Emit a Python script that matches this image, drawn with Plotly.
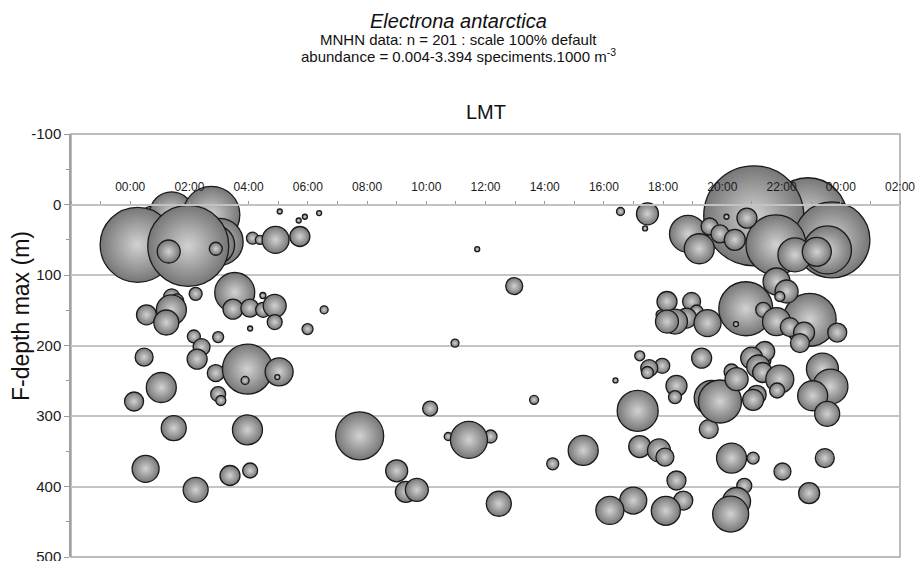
import plotly.graph_objects as go

# Local mean time of each haul (hours; values past 24 fall after midnight)
time_h = [
    22.89, 21.06, 23.70, 23.55, 21.81, 22.45, 23.19, 18.84, 19.22, 19.57,
    19.92, 20.42, 20.14, 20.83,
    1.00, 1.40, 2.74, 3.02, 2.85, 0.25, 1.96, 1.30, 2.89,
    4.13, 4.38, 4.91, 5.73, 5.05, 5.69, 5.90, 6.38,
    3.53, 2.21, 4.48, 1.40, 1.57, 1.39, 0.55, 1.22, 3.47, 4.04,
    4.49, 4.88, 4.88, 6.55, 5.99, 4.05, 2.15, 2.97, 2.41, 2.26,
    0.47, 2.89, 3.96, 3.88, 5.03, 4.97, 1.05, 2.97, 3.06, 0.13,
    1.47, 3.96, 0.52, 2.21, 3.37, 4.05,
    11.72, 12.97, 10.97, 16.39, 13.64, 10.13, 7.75, 10.74, 12.17, 11.44,
    9.00, 9.31, 9.68, 12.45, 14.27, 15.30, 16.56, 17.47, 17.39,
    17.21, 17.86, 18.06, 19.54, 20.31, 21.04, 22.03, 23.46, 18.45, 20.74,
    22.93, 16.99, 16.20, 18.68, 18.09, 20.48, 20.28,
    17.21, 17.97, 17.53, 17.47, 19.30, 18.45, 18.40, 17.14, 19.64, 19.92,
    21.16, 21.04, 21.27, 21.43, 20.99, 21.21, 21.36, 20.31, 20.48, 21.94,
    21.85, 23.38, 23.65, 23.05, 23.54,
    20.79, 22.95, 18.13, 18.96, 17.93, 19.13, 18.79, 18.40, 18.13, 19.50,
    20.46, 21.38, 21.83, 21.83, 22.17, 21.94, 22.28, 22.76, 22.62, 23.88,
]

# Maximum depth of the haul (m)
depth_m = [
    17.4, 16.0, 50.1, 64.4, 57.2, 71.4, 67.1, 41.6, 62.8, 31.2,
    41.6, 50.1, 17.4, 19.3,
    47.2, 13.2, 14.6, 52.9, 57.2, 57.2, 58.6, 66.7, 62.8,
    47.7, 50.1, 50.1, 45.4, 9.9, 22.7, 17.4, 12.2,
    124.8, 126.7, 129.1, 130.9, 136.6, 149.4, 156.5, 167.4, 148.4, 147.0,
    149.4, 143.7, 166.8, 149.4, 176.7, 175.9, 187.2, 188.1, 202.3, 219.3,
    216.5, 239.1, 233.5, 249.6, 237.3, 244.8, 259.6, 268.9, 278.0, 279.4,
    317.2, 319.6, 374.9, 404.7, 384.4, 377.3,
    63.3, 115.7, 196.6, 249.6, 277.0, 289.4, 328.1, 329.1, 329.1, 333.8,
    377.7, 407.5, 404.7, 424.5, 367.8, 348.9, 9.9, 13.2, 34.0,
    343.3, 348.9, 358.3, 318.6, 359.7, 359.7, 378.7, 359.7, 391.5, 399.0,
    409.4, 419.9, 434.0, 419.9, 434.5, 421.3, 439.1,
    214.6, 228.8, 232.1, 238.3, 217.9, 257.2, 273.2, 292.6, 274.2, 279.4,
    269.9, 277.0, 219.6, 208.5, 217.9, 229.8, 238.3, 236.9, 247.7, 247.7,
    263.8, 233.5, 258.2, 271.3, 296.9,
    147.9, 163.5, 137.6, 137.6, 156.5, 151.8, 161.1, 166.0, 166.0, 168.2,
    169.6, 149.4, 166.0, 109.2, 123.4, 130.5, 173.9, 181.6, 196.6, 181.6,
]

# Abundance (specimens per 1000 m3); bubble area is proportional to it
abundance = [
    2.065, 3.394, 1.960, 0.782, 1.222, 0.392, 0.2854, 0.4646, 0.3055, 0.0981,
    0.110, 0.1497, 0.0085, 0.1358,
    1.478, 0.657, 1.103, 0.750, 0.543, 1.909, 2.227, 0.1795, 0.0574,
    0.0489, 0.0275, 0.2474, 0.1358, 0.0069, 0.004, 0.0042, 0.0042,
    0.543, 0.0574, 0.0122, 0.0869, 0.0665, 0.3055, 0.1358, 0.2121, 0.1358, 0.110,
    0.0764, 0.1795, 0.0764, 0.0217, 0.0411, 0.004, 0.0574, 0.0411, 0.0981, 0.1358,
    0.110, 0.0981, 0.8485, 0.0217, 0.2661, 0.004, 0.3055, 0.0764, 0.0339, 0.1225,
    0.2121, 0.3055, 0.2474, 0.2121, 0.1358, 0.0764,
    0.0069, 0.0981, 0.0217, 0.004, 0.0275, 0.0764, 0.782, 0.0217, 0.0574, 0.4646,
    0.1643, 0.1497, 0.1795, 0.2121, 0.0489, 0.3055, 0.0217, 0.1643, 0.004,
    0.1643, 0.1795, 0.110, 0.1225, 0.3055, 0.0489, 0.0981, 0.1225, 0.1225, 0.0764,
    0.1497, 0.2474, 0.2661, 0.1225, 0.2854, 0.2661, 0.4399,
    0.0339, 0.0764, 0.0981, 0.0489, 0.1358, 0.1497, 0.0574, 0.5705, 0.4158, 0.6276,
    0.1225, 0.1497, 0.1643, 0.1358, 0.1643, 0.1795, 0.1358, 0.0764, 0.1795, 0.2661,
    0.0764, 0.3476, 0.4158, 0.3055, 0.2121,
    0.990, 0.953, 0.1358, 0.110, 0.0339, 0.0574, 0.1358, 0.2121, 0.1795, 0.2474,
    0.0085, 0.0764, 0.2661, 0.2474, 0.1795, 0.0339, 0.1225, 0.1497, 0.1225, 0.1225,
]

# Axis ticks
time_tick_vals = [0, 2, 4, 6, 8, 10, 12, 14, 16, 18, 20, 22, 24, 26]
time_tick_text = ["00:00", "02:00", "04:00", "06:00", "08:00", "10:00", "12:00",
                  "14:00", "16:00", "18:00", "20:00", "22:00", "00:00", "02:00"]
depth_tick_vals = [-100, 0, 100, 200, 300, 400, 500]
depth_tick_text = ["-100", "0", "100", "200", "300", "400", "500"]

FONT = "Liberation Sans, Arial, Helvetica, sans-serif"
MAX_DIAMETER_PX = 100

fig = go.Figure()
fig.add_trace(go.Scatter(
    x=time_h,
    y=depth_m,
    mode="markers",
    marker=dict(
        size=abundance,
        sizemode="area",
        sizeref=2.0 * max(abundance) / MAX_DIAMETER_PX ** 2,
        sizemin=2.5,
        color="#767676",
        gradient=dict(type="radial", color="#d2d2d2"),
        line=dict(color="#1a1a1a", width=1.3),
        opacity=1,
    ),
    hoverinfo="x+y+text",
    text=[f"{a:.3f}" for a in abundance],
    showlegend=False,
))

fig.update_layout(
    width=917,
    height=561,
    margin=dict(l=71, r=17, t=134, b=4, autoexpand=False),
    paper_bgcolor="white",
    plot_bgcolor="white",
    font=dict(family=FONT, color="#1a1a1a"),
    xaxis=dict(
        range=[-2, 26],
        anchor="free",
        position=5 / 6,
        side="top",
        automargin=False,
        tickmode="array",
        tickvals=time_tick_vals,
        ticktext=time_tick_text,
        ticks="outside",
        ticklen=3,
        tickcolor="#9a9a9a",
        tickfont=dict(size=12, family=FONT, color="#1a1a1a"),
        ticklabelstandoff=5,
        minor=dict(dtick=1, tick0=0, ticks="outside", ticklen=3, tickcolor="#9a9a9a"),
        showline=True,
        linecolor="#c2c2c2",
        linewidth=1.5,
        showgrid=False,
        zeroline=False,
    ),
    yaxis=dict(
        range=[500, -100],
        automargin=False,
        tickmode="array",
        tickvals=depth_tick_vals,
        ticktext=depth_tick_text,
        ticks="outside",
        ticklen=5,
        tickcolor="#9a9a9a",
        tickfont=dict(size=15, family=FONT, color="#1a1a1a"),
        ticklabeloverflow="allow",
        minor=dict(dtick=50, tick0=-100, ticks="outside", ticklen=3, tickcolor="#9a9a9a"),
        showgrid=True,
        gridcolor="#c4c4c4",
        gridwidth=1.5,
        showline=True,
        linecolor="#a0a0a0",
        linewidth=1.5,
        zeroline=False,
    ),
    shapes=[dict(
        type="rect", xref="paper", yref="paper", x0=0, x1=1, y0=0, y1=1,
        line=dict(color="#a8a8a8", width=1.5), layer="between",
    )],
    annotations=[
        dict(text="<i>Electrona antarctica</i>", xref="paper", yref="paper",
             x=(458.5 - 71) / 829, y=(557 - 21) / 423, xanchor="center", yanchor="middle",
             showarrow=False, font=dict(size=20, family=FONT, color="#111")),
        dict(text="MNHN data: n = 201 : scale 100% default", xref="paper", yref="paper",
             x=(458.5 - 71) / 829, y=(557 - 40) / 423, xanchor="center", yanchor="middle",
             showarrow=False, font=dict(size=15, family=FONT, color="#111")),
        dict(text="abundance = 0.004-3.394 speciments.1000 m<sup>-3</sup>", xref="paper",
             yref="paper", x=(458.5 - 71) / 829, y=(557 - 56) / 423,
             xanchor="center", yanchor="middle",
             showarrow=False, font=dict(size=15, family=FONT, color="#111")),
        dict(text="LMT", xref="paper", yref="paper", x=0.5, y=(557 - 112) / 423,
             xanchor="center", yanchor="middle", showarrow=False,
             font=dict(size=20, family=FONT, color="#111")),
        dict(text="F-depth max (m)", xref="paper", yref="paper",
             x=(21 - 71) / 829, y=(557 - 316) / 423, xanchor="center", yanchor="middle",
             textangle=-90, showarrow=False,
             font=dict(size=23, family=FONT, color="#111")),
    ],
)

fig.write_html("out.html")
